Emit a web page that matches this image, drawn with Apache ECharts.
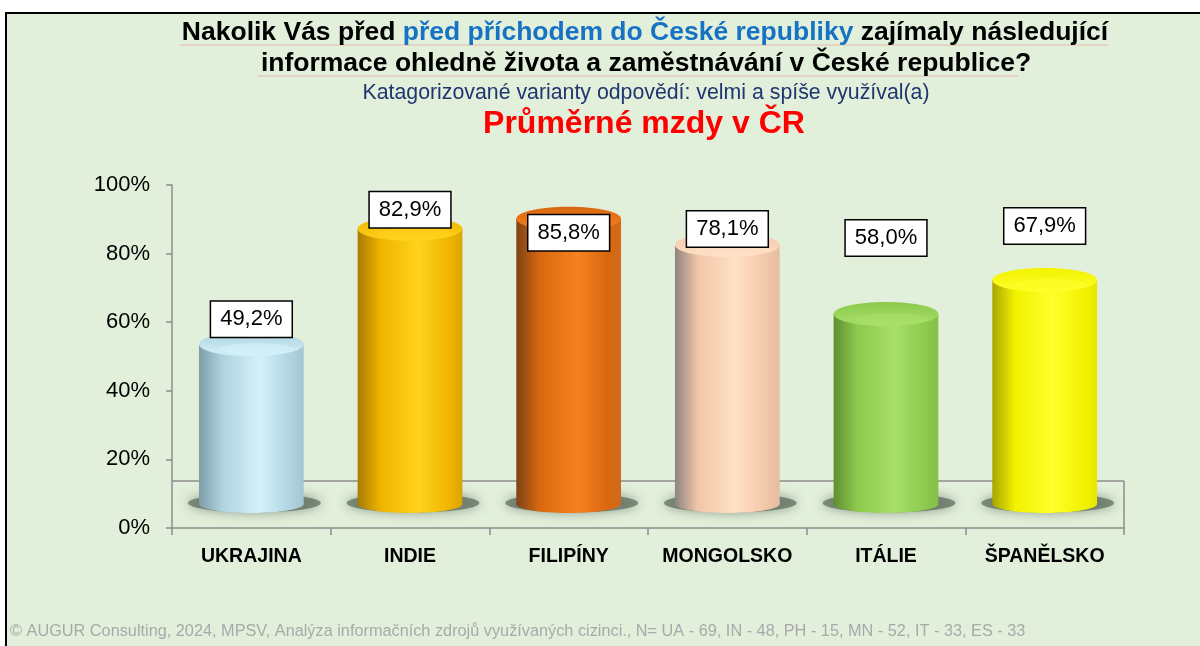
<!DOCTYPE html>
<html>
<head>
<meta charset="utf-8">
<script src="https://cdn.jsdelivr.net/npm/echarts@6/dist/echarts.min.js"></script>
<style>
  html, body { margin: 0; padding: 0; background: #fff; }
  #chart { width: 1200px; height: 646px; }
</style>
</head>
<body>
<div id="chart"></div>
<script>
// data
const categories = ['UKRAJINA', 'INDIE', 'FILIPÍNY', 'MONGOLSKO', 'ITÁLIE', 'ŠPANĚLSKO'];
const values = [49.2, 82.9, 85.8, 78.1, 58.0, 67.9];
const yTicks = [0, 20, 40, 60, 80, 100];

// cylinder colours: [shadow edge, base, highlight, right edge]
const barColors = [
  ['#7e9ea8', '#aed3df', '#d3f1fb', '#a5c6d1'],
  ['#a97c00', '#efb400', '#ffd21c', '#d9a500'],
  ['#7d4317', '#d9670f', '#f58220', '#d06a1a'],
  ['#8c8580', '#f2c6a8', '#ffe1c6', '#e3bda2'],
  ['#5f8f32', '#8cc94c', '#a8e06a', '#86bf49'],
  ['#a9a400', '#f2f200', '#ffff2a', '#e6e600']
];
// manual label placement (px above value), as in the original
const labelShift = [40, 34, 1, 31, 91, 69];

const FONT = '"Liberation Sans", Arial, sans-serif';

function fmt(v) {
  return v.toFixed(1).replace('.', ',') + '%';
}

function renderCylinder(params, api) {
  const i = api.value(0);
  const v = api.value(1);
  const p0 = api.coord([i, 0]);
  const pv = api.coord([i, v]);
  const band = api.size([1, 0])[0];
  const x = p0[0], y0 = p0[1];
  const w = band * 0.66, rx = w / 2;
  const baseY = y0 - 24;
  const topY = pv[1] - 15;
  const backY = y0 - 47;
  const c = barColors[i];
  const side = new echarts.graphic.LinearGradient(0, 0, 1, 0, [
    { offset: 0, color: c[0] },
    { offset: 0.22, color: c[1] },
    { offset: 0.58, color: c[2] },
    { offset: 0.88, color: c[1] },
    { offset: 1, color: c[3] }
  ]);
  const cap = new echarts.graphic.LinearGradient(0, 0, 0, 1, [
    { offset: 0, color: c[1] },
    { offset: 1, color: c[2] }
  ]);
  const children = [
    // floor back edge
    { type: 'line', shape: { x1: x - band / 2, y1: backY, x2: x + band / 2, y2: backY },
      style: { stroke: '#8c8c8c', lineWidth: 1.5 } },
    // shadow
    { type: 'ellipse', shape: { cx: x + 3, cy: baseY - 1, rx: rx + 14, ry: 9.5 },
      style: { fill: 'rgba(90,104,90,0.7)', shadowBlur: 12, shadowColor: 'rgba(90,104,90,0.9)' } },
    { type: 'ellipse', shape: { cx: x, cy: baseY, rx: rx, ry: 9 }, style: { fill: side } },
    { type: 'rect', shape: { x: x - rx, y: topY, width: w, height: baseY - topY }, style: { fill: side } },
    { type: 'ellipse', shape: { cx: x, cy: topY, rx: rx, ry: 12 }, style: { fill: cap } },
    { type: 'ellipse', shape: { cx: x + rx * 0.1, cy: topY + 5, rx: rx * 0.7, ry: 6 },
      style: { fill: c[2], opacity: 0.6 } },
    {
      type: 'text', z2: 20,
      style: {
        text: fmt(v), x: x, y: pv[1] - labelShift[i],
        align: 'center', verticalAlign: 'middle',
        fontSize: 22, fontFamily: FONT, fill: '#000', lineHeight: 25,
        backgroundColor: '#fff', borderColor: '#000', borderWidth: 1.5, padding: [5, 9]
      }
    }
  ];
  if (i === categories.length - 1) {
    children.push({ type: 'line', shape: { x1: x + band / 2, y1: backY, x2: x + band / 2, y2: y0 },
      style: { stroke: '#8c8c8c', lineWidth: 1.5 } });
  }
  return { type: 'group', children: children };
}

const chart = echarts.init(document.getElementById('chart'));
chart.setOption({
  backgroundColor: '#fff',
  animation: false,
  graphic: [
    { type: 'rect', z: -10, shape: { x: 6, y: 13, width: 1200, height: 640 },
      style: { fill: '#e2efda', stroke: '#000', lineWidth: 2 } },
    { type: 'line', z: -5, shape: { x1: 180, y1: 45, x2: 1108, y2: 45 },
      style: { stroke: 'rgba(230,90,90,0.35)', lineWidth: 1 } },
    { type: 'line', z: -5, shape: { x1: 258, y1: 76, x2: 1018, y2: 76 },
      style: { stroke: 'rgba(230,90,90,0.35)', lineWidth: 1 } },
    {
      type: 'text', style: {
        x: 645, y: 33, align: 'center', verticalAlign: 'middle',
        text: '{k|Nakolik Vás před }{b|před příchodem do České republiky}{k| zajímaly následující}',
        rich: {
          k: { fontSize: 26.5, fontWeight: 'bold', fontFamily: FONT, fill: '#000' },
          b: { fontSize: 26.5, fontWeight: 'bold', fontFamily: FONT, fill: '#1673c4' }
        }
      }
    },
    {
      type: 'text', style: {
        x: 646, y: 64, align: 'center', verticalAlign: 'middle',
        text: 'informace ohledně života a zaměstnávání v České republice?',
        fontSize: 26.5, fontWeight: 'bold', fontFamily: FONT, fill: '#000'
      }
    },
    {
      type: 'text', style: {
        x: 646, y: 93, align: 'center', verticalAlign: 'middle',
        text: 'Katagorizované varianty odpovědí: velmi a spíše využíval(a)',
        fontSize: 21.3, fontFamily: FONT, fill: '#1f3670'
      }
    },
    {
      type: 'text', style: {
        x: 644, y: 124, align: 'center', verticalAlign: 'middle',
        text: 'Průměrné mzdy v ČR',
        fontSize: 32, fontWeight: 'bold', fontFamily: FONT, fill: '#ff0000'
      }
    },
    {
      type: 'text', style: {
        x: 10, y: 632, align: 'left', verticalAlign: 'middle',
        text: '© AUGUR Consulting, 2024, MPSV, Analýza informačních zdrojů využívaných cizinci., N= UA - 69, IN - 48, PH - 15, MN - 52, IT - 33, ES - 33',
        fontSize: 16.3, fontFamily: FONT, fill: '#a9a9a9'
      }
    }
  ],
  grid: { left: 172, right: 76, top: 185, bottom: 118 },
  xAxis: {
    type: 'category',
    data: categories,
    axisLine: { show: true, lineStyle: { color: '#8c8c8c', width: 1.5 } },
    axisTick: { show: true, interval: 0, length: 7, lineStyle: { color: '#8c8c8c', width: 1.5 } },
    axisLabel: { interval: 0, fontSize: 19.5, fontWeight: 'bold', fontFamily: FONT, color: '#000', margin: 19 },
    splitLine: { show: false }
  },
  yAxis: {
    type: 'value',
    min: yTicks[0],
    max: yTicks[yTicks.length - 1],
    interval: yTicks[1] - yTicks[0],
    axisLine: { show: true, lineStyle: { color: '#8c8c8c', width: 1.5 } },
    axisTick: { show: true, length: 6, lineStyle: { color: '#8c8c8c', width: 1.5 } },
    axisLabel: { formatter: '{value}%', fontSize: 22, fontFamily: FONT, color: '#000', margin: 22 },
    splitLine: { show: false }
  },
  series: [{
    type: 'custom',
    renderItem: renderCylinder,
    data: values.map((v, i) => [i, v]),
    encode: { x: 0, y: 1 }
  }]
});
</script>
</body>
</html>
